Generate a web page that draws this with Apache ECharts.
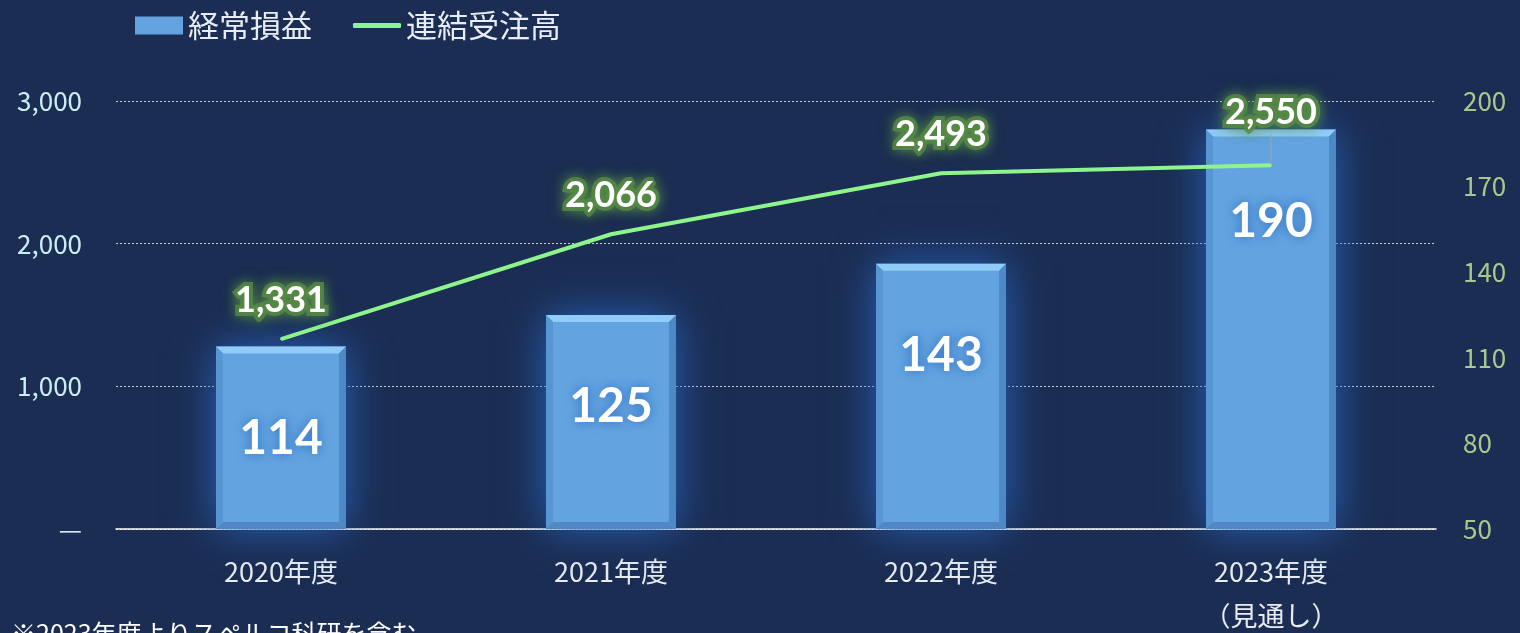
<!DOCTYPE html>
<html>
<head>
<meta charset="utf-8">
<script src="https://cdn.jsdelivr.net/npm/echarts@6/dist/echarts.min.js"></script>
<style>
    html, body { margin: 0; padding: 0; background: #1b2d52; }
    #chart { width: 1520px; height: 633px; }
</style>
</head>
<body>
<div id="chart"></div>
<script>
    // データ
    const categories = ['2020年度', '2021年度', '2022年度', '2023年度\n（見通し）']
    const profit = [114, 125, 143, 190]          // 経常損益（右軸）
    const orders = [1331, 2066, 2493, 2550]      // 連結受注高（左軸）
    const rightTicks = [50, 80, 110, 140, 170, 200]
    const note = '※2023年度よりスペルコ科研を含む'

    const font = '"Noto Sans CJK JP", "Noto Sans", sans-serif'
    const numFont = 'Lato, "Noto Sans", sans-serif'
    const legendText = {color: '#e8edf5', fontSize: 31, fontFamily: font}
    const barW = 130

    // 棒の面取り（上下左右の縁）
    function bevel(params, api) {
        const top = api.coord([api.value(0), api.value(1)])
        const base = api.coord([api.value(0), 50])
        const x0 = top[0] - barW / 2, x1 = top[0] + barW / 2
        const y0 = top[1], y1 = base[1]
        const b = 7
        const poly = (pts, fill) => ({type: 'polygon', shape: {points: pts}, style: {fill: fill}, silent: true})
        return {
            type: 'group',
            children: [
                poly([[x0, y0], [x1, y0], [x1 - b, y0 + b], [x0 + b, y0 + b]], '#90ccf7'),
                poly([[x0, y0], [x0 + b, y0 + b], [x0 + b, y1 - b], [x0, y1]], '#5796d2'),
                poly([[x1, y0], [x1 - b, y0 + b], [x1 - b, y1 - b], [x1, y1]], '#4d89c4'),
                poly([[x0, y1], [x0 + b, y1 - b], [x1 - b, y1 - b], [x1, y1]], '#4f88c2')
            ]
        }
    }

    const chart = echarts.init(document.getElementById('chart'))
    chart.setOption({
        backgroundColor: '#1b2d52',
        textStyle: {fontFamily: font},
        legend: [
            {
                left: 130, top: 5, itemWidth: 48, itemHeight: 18, itemGap: 4,
                icon: 'rect',
                textStyle: legendText,
                data: ['経常損益']
            },
            {
                left: 348, top: 5, itemWidth: 48, itemHeight: 5,
                icon: 'roundRect',
                textStyle: legendText,
                data: ['連結受注高']
            }
        ],
        grid: {left: 116, right: 84, top: 101, bottom: 104, outerBoundsMode: 'none', containLabel: false},
        xAxis: {
            type: 'category',
            data: categories,
            axisLine: {lineStyle: {color: '#ffffff', width: 1.5}},
            axisTick: {show: false},
            axisLabel: {color: '#e8ecf2', fontSize: 27, margin: 21, lineHeight: 44, fontFamily: font}
        },
        yAxis: [
            {
                type: 'value',
                min: 0,
                max: 3000,
                interval: 1000,
                axisLine: {show: false},
                axisTick: {show: false},
                splitLine: {lineStyle: {color: '#c5cfdd', type: [2, 2], width: 1}},
                axisLabel: {
                    color: '#cdeef5', fontSize: 26, margin: 34, fontFamily: font,
                    formatter: v => v === 0 ? '—' : v.toLocaleString('en-US')
                }
            },
            {
                type: 'value',
                min: 50,
                max: 200,
                axisLine: {show: false},
                axisTick: {show: false},
                splitLine: {show: false},
                axisLabel: {
                    color: '#a9c98c', fontSize: 26, margin: 27, fontFamily: font,
                    customValues: rightTicks
                }
            }
        ],
        series: [
            {
                name: '経常損益',
                type: 'bar',
                yAxisIndex: 1,
                barWidth: barW,
                data: profit,
                itemStyle: {
                    color: '#63a4e0',
                    shadowBlur: 40,
                    shadowColor: 'rgba(40, 100, 190, 0.95)'
                },
                label: {
                    show: true,
                    position: 'insideTop',
                    distance: 68,
                    color: '#ffffff',
                    fontSize: 48,
                    fontWeight: 'bold',
                    fontFamily: numFont,
                    textShadowColor: '#2f6fc2',
                    textShadowBlur: 12
                },
                z: 2
            },
            {
                type: 'custom',
                yAxisIndex: 1,
                data: profit.map((v, i) => [i, v]),
                renderItem: bevel,
                silent: true,
                z: 3
            },
            {
                name: '連結受注高',
                type: 'line',
                yAxisIndex: 0,
                // 最後の点だけラベルを持ち上げて引き出し線を付ける
                data: orders.map((v, i) => i === orders.length - 1 ? {value: v, labelLine: {show: true}} : v),
                symbol: 'circle',
                symbolSize: 2,
                color: '#8ef58c',
                lineStyle: {color: '#8ef58c', width: 4},
                label: {
                    show: true,
                    position: 'top',
                    distance: 20,
                    color: '#ffffff',
                    fontSize: 36,
                    fontWeight: 'bold',
                    fontFamily: numFont,
                    formatter: p => p.value.toLocaleString('en-US'),
                    textBorderColor: 'rgba(88, 138, 70, 0.8)',
                    textBorderWidth: 8,
                    textShadowColor: 'rgba(90, 145, 70, 1)',
                    textShadowBlur: 14
                },
                labelLayout: p => p.dataIndex === 3 ? {dy: -14} : {},
                labelLine: {show: false, lineStyle: {color: '#a0a4aa', width: 1}},
                z: 5
            }
        ],
        graphic: [
            {
                type: 'text',
                left: 11,
                top: 621,
                style: {text: note, fill: '#ffffff', fontSize: 25, fontFamily: font}
            }
        ]
    })
</script>
</body>
</html>
